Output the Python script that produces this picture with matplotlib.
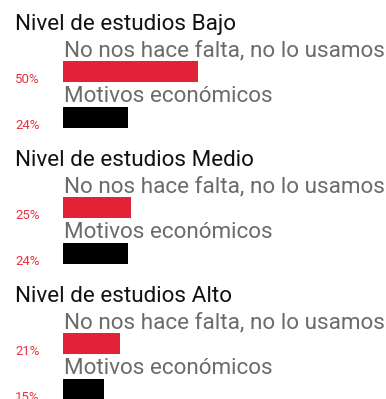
import matplotlib.pyplot as plt

# Datos: motivos por nivel de estudios (%)
niveles = ["Nivel de estudios Bajo", "Nivel de estudios Medio", "Nivel de estudios Alto"]
motivos = ["No nos hace falta, no lo usamos", "Motivos económicos"]
falta = [50, 25, 21]
economicos = [24, 24, 15]

colores = ["#e3223a", "#000000"]
rojo_txt = "#e8333f"

plt.rcParams['font.family'] = ['Roboto', 'DejaVu Sans']

W, H = 386, 399
fig = plt.figure(figsize=(W / 100, H / 100), dpi=100)
ax = fig.add_axes([0, 0, 1, 1])

# escala: 2.7 px por punto porcentual, barras desde x=63 px
px = 2.7
x0 = 63
ax.set_xlim(-x0 / px, (W - x0) / px)
ax.set_ylim(H, 0)
ax.axis("off")

periodo = 135.8
alto_barra = 21
for i, nivel in enumerate(niveles):
    base = i * periodo
    ax.text(-48 / px, base + 30, nivel, fontsize=16.2, color="#111111",
            va="baseline", ha="left")
    valores = [falta[i], economicos[i]]
    for j, (motivo, v) in enumerate(zip(motivos, valores)):
        top = base + 61 + j * 46
        ax.text(0.3, top - 4.5, motivo, fontsize=16.2, color="#6b6b6b",
                va="baseline", ha="left")
        ax.barh(top + alto_barra / 2, v, height=alto_barra, left=0,
                color=colores[j], align="center")
        ax.text(-48 / px, top + alto_barra + 1, f"{v}%", fontsize=9.5,
                color=rojo_txt, va="baseline", ha="left")

fig.savefig("out.png", dpi=100)
